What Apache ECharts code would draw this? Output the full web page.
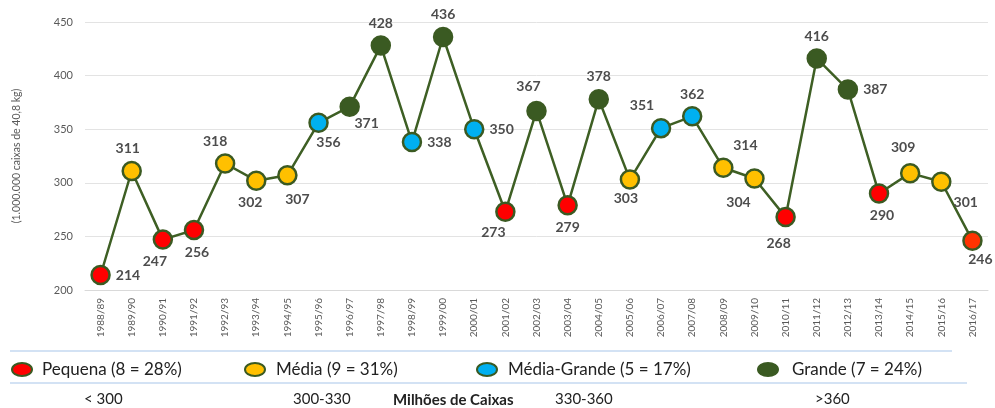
<!DOCTYPE html>
<html><head><meta charset="utf-8">
<script src="https://cdn.jsdelivr.net/npm/echarts@6/dist/echarts.min.js"></script>
<style>html,body{margin:0;padding:0;background:#fff}#c{width:995px;height:408px}</style>
</head><body><div id="c"></div>
<script>
const categories = ['1988/89','1989/90','1990/91','1991/92','1992/93','1993/94','1994/95','1995/96','1996/97','1997/98','1998/99','1999/00','2000/01','2001/02','2002/03','2003/04','2004/05','2005/06','2006/07','2007/08','2008/09','2009/10','2010/11','2011/12','2012/13','2013/14','2014/15','2015/16','2016/17'];
const values = [214,311,247,256,318,302,307,356,371,428,338,436,350,273,367,279,378,303,351,362,314,304,268,416,387,290,309,301,246];
const sizeClass = ['P','M','P','P','M','M','M','MG','G','G','MG','G','MG','P','G','P','G','M','MG','MG','M','M','P','G','G','P','M','M','P'];
const legendLabels = ['Pequena (8 = 28%)','Média (9 = 31%)','Média-Grande (5 = 17%)','Grande (7 = 24%)'];
const rangeLabels = ['< 300','300-330','330-360','>360'];
const axisTitle = 'Milhões de Caixas';
const yName = '(1.000.000 caixas de 40,8 kg)';

// styles (kept apart from data)
const fills = {P:'#FF0000', M:'#FFC000', MG:'#00B0F0', G:'#3A5A22'};
const lastFill = '#FF3300';
const labelPos = ['right','top','bottom','bottom','top','bottom','bottom','bottom','bottom','top','right','top','right','bottom','top','bottom','top','bottom','top','top','top','bottom','bottom','top','right','bottom','top','right','bottom'];
const labelOff = [[0,0],[-4,0],[-8,0],[3,0],[-10,0],[-6,0],[10,2],[10,-3],[17,-5],[0,0],[0,0],[0,0],[0,0],[-12,-2],[-8,-2],[0,0],[0,0],[-4,-3],[-19,0],[0,0],[22,0],[-16,2],[-7,4],[0,0],[0,0],[3,0],[-7,-3],[-3,21],[8,-3]];

const green = '#3E5F24';
const data = values.map((v,i)=>({
  value: v,
  itemStyle: {color: i===values.length-1 ? lastFill : fills[sizeClass[i]]},
  label: {position: labelPos[i], offset: labelOff[i]}
}));

const legendColors = [fills.P, fills.M, fills.MG, fills.G];
const ellX = [22, 255, 487, 768];
const txtX = [42, 276, 508, 792];
const rangeX = [84, 293, 555, 815];

const graphic = [];
graphic.push({type:'line', shape:{x1:10,y1:351,x2:952,y2:351}, style:{stroke:'#C5D9F1', lineWidth:1.5}});
graphic.push({type:'line', shape:{x1:10,y1:383,x2:967,y2:383}, style:{stroke:'#C5D9F1', lineWidth:1.5}});
legendLabels.forEach((t,i)=>{
  graphic.push({type:'ellipse', shape:{cx:ellX[i], cy:369.5, rx:10, ry:6.5}, style:{fill:legendColors[i], stroke:'#3A5A22', lineWidth:2}});
  graphic.push({type:'text', x:txtX[i], y:369.5, style:{text:t, fill:'#222', font:'17px Lato', verticalAlign:'middle'}});
});
rangeLabels.forEach((t,i)=>{
  graphic.push({type:'text', x:rangeX[i], y:399, style:{text:t, fill:'#222', font:'15px Lato', verticalAlign:'middle'}});
});
graphic.push({type:'text', x:393, y:400, style:{text:axisTitle, fill:'#222', font:'bold 15px Lato', verticalAlign:'middle'}});

const chart = echarts.init(document.getElementById('c'), null, {renderer:'canvas'});
chart.setOption({
  animation:false,
  textStyle:{fontFamily:'Lato'},
  grid:{left:85, right:7, top:22, bottom:118, containLabel:false},
  xAxis:{type:'category', data:categories, boundaryGap:true,
    axisLine:{lineStyle:{color:'#D9D9D9'}}, axisTick:{show:false},
    axisLabel:{rotate:90, interval:0, color:'#595959', fontSize:10, margin:8}},
  yAxis:{type:'value', min:200, max:450, interval:50,
    name:yName, nameLocation:'middle', nameGap:63, nameRotate:90,
    nameTextStyle:{color:'#595959', fontSize:10.5},
    axisLine:{show:false}, axisTick:{show:false},
    axisLabel:{color:'#595959', fontSize:11, margin:12},
    splitLine:{lineStyle:{color:'#E3E3E3'}}},
  series:[{type:'line', data:data, symbol:'circle', symbolSize:18,
    lineStyle:{color:green, width:2.5},
    itemStyle:{borderColor:'#3B5A22', borderWidth:2.5},
    label:{show:true, fontSize:14, fontWeight:'bold', color:'#4D4D4D', distance:5},
    emphasis:{disabled:true}}],
  graphic: graphic
});
</script></body></html>
